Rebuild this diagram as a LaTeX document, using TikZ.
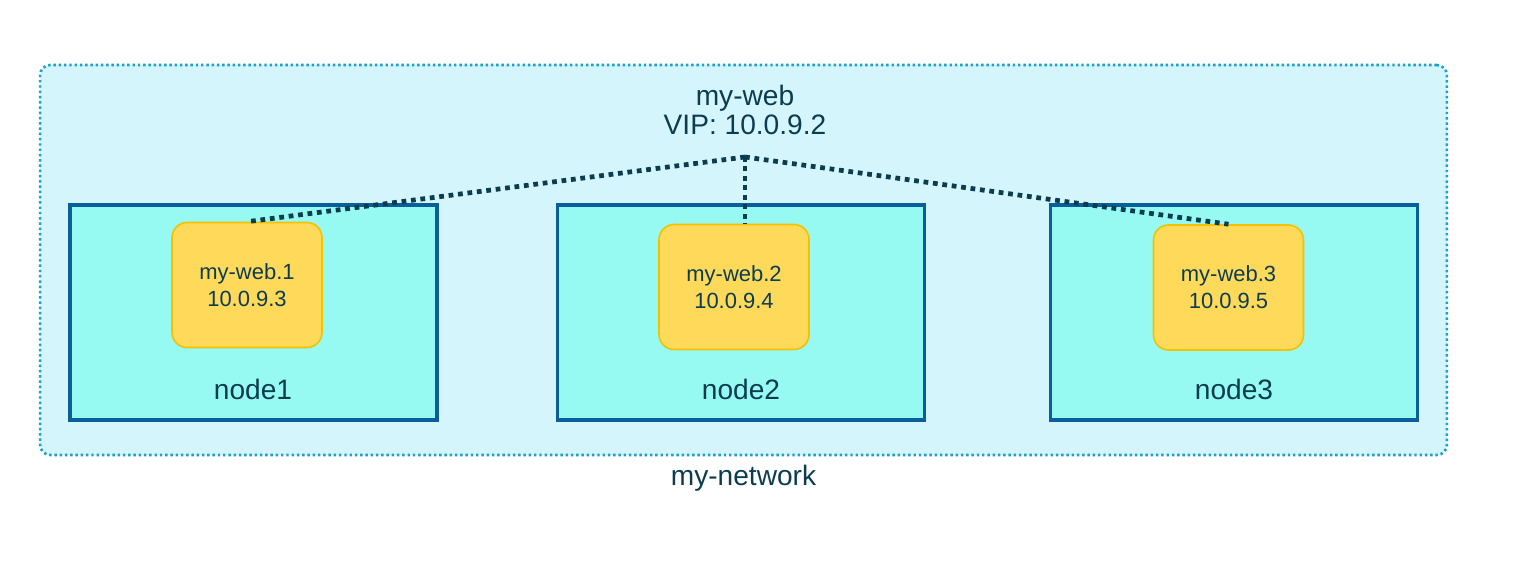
\documentclass[tikz,border=0pt]{standalone}
\usepackage{fontspec}
\setmainfont{Liberation Sans}
\usepackage{tikz}
\usetikzlibrary{positioning}
\definecolor{netfill}{HTML}{D5F5FD}
\definecolor{netline}{HTML}{1AA2CA}
\definecolor{hostfill}{HTML}{96FAF3}
\definecolor{hostline}{HTML}{0A5E9A}
\definecolor{taskfill}{HTML}{FFD95A}
\definecolor{taskline}{HTML}{F2C200}
\definecolor{ink}{HTML}{0B3D4F}

\begin{document}
\begin{tikzpicture}[
    x=0.02cm, y=-0.02cm,
    net/.style={draw=netline, fill=netfill, line width=1.5pt, dash pattern=on 1.4pt off 1.6pt, rounded corners=0.2cm, minimum width=28.14cm, minimum height=7.8cm},
    host/.style={draw=hostline, fill=hostfill, line width=1.8pt, minimum width=7.34cm, minimum height=4.3cm},
    task/.style={draw=taskline, fill=taskfill, line width=0.9pt, rounded corners=0.3cm, minimum width=3cm, minimum height=2.5cm, align=center, text=ink, font=\fontsize{12.5}{15.5}\selectfont},
    lbl/.style={text=ink, font=\fontsize{16}{19}\selectfont, align=center},
    link/.style={draw=ink, line width=2.7pt, dash pattern=on 2.7pt off 2.7pt}
]
\useasboundingbox (0,0) rectangle (1534,574);
\node[net] (net) at (743.5, 260) {};
\node[lbl] (svc) at (745, 110) {my-web\\[-2pt]VIP: 10.0.9.2};
\node[lbl, below=0.06cm of net] {my-network};

\node[host] (h1) at (253.5, 312.5) {};
\node[host] (h2) at (741, 312.5) {};
\node[host] (h3) at (1234, 312.5) {};

\node[lbl] at (253, 389) {node1};
\node[lbl] at (741, 389) {node2};
\node[lbl] at (1234, 389) {node3};

\node[task] (t1) at (247, 285) {my-web.1\\ 10.0.9.3};
\node[task] (t2) at (734, 287) {my-web.2\\ 10.0.9.4};
\node[task] (t3) at (1228.5, 287.5) {my-web.3\\ 10.0.9.5};

\coordinate (vip) at (745, 157);
\draw[link] (vip) -- (t1.north);
\draw[link] (vip) -- (vip |- t2.north);
\draw[link] (vip) -- (t3.north);
\end{tikzpicture}
\end{document}
